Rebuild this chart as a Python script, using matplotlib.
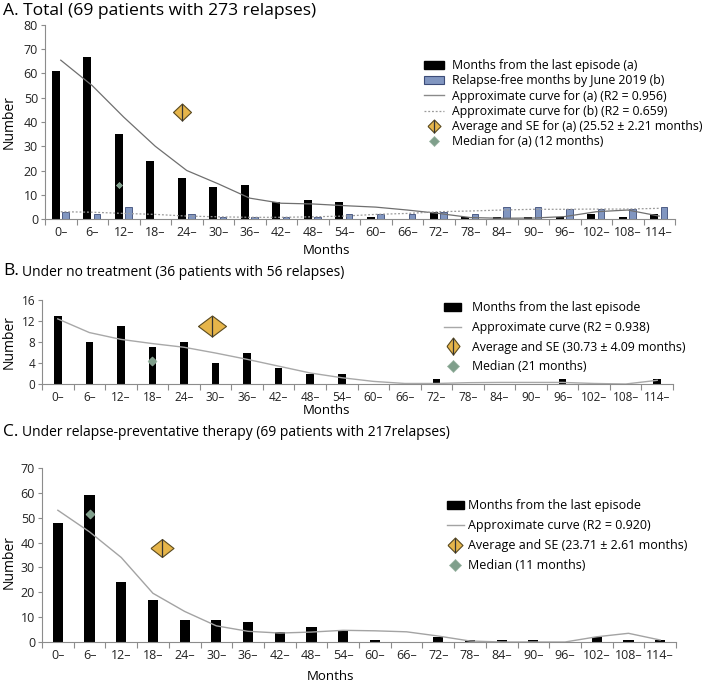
import numpy as np
import matplotlib
matplotlib.use('Agg')
import matplotlib.pyplot as plt
from matplotlib.lines import Line2D
from matplotlib.patches import Patch

plt.rcParams['font.family'] = ['Open Sans', 'DejaVu Sans']

# --- data ---
months = ['0–', '6–', '12–', '18–', '24–', '30–', '36–', '42–', '48–', '54–',
          '60–', '66–', '72–', '78–', '84–', '90–', '96–', '102–', '108–', '114–']

# A. total
a_last = [61, 67, 35, 24, 17, 13, 14, 7, 8, 7, 1, 0, 3, 1, 1, 1, 1, 2, 1, 2]
a_free = [3, 2, 5, 0, 2, 1, 1, 1, 1, 2, 2, 2, 3, 2, 5, 5, 4, 4, 4, 5]
a_curve = [65.5, 55, 42, 30, 20, 14.5, 8.6, 6.5, 6.2, 5.5, 4.9, 3.7, 2.3, 0.6, 0.3, 0.4, 1.0, 3.0, 3.7, 1.2]
a_curve_b = [3.0, 2.8, 2.3, 1.9, 1.2, 0.9, 0.7, 0.7, 0.9, 1.2, 1.9, 2.3, 3.0, 3.3, 3.7, 4.0, 4.0, 4.1, 4.1, 4.4]
a_avg = (3.85, 44)
a_med = (1.85, 14)

# B. no treatment
b_last = [13, 8, 11, 7, 8, 4, 6, 3, 2, 2, 0, 0, 1, 0, 0, 0, 1, 0, 0, 1]
b_curve = [12.4, 9.8, 8.5, 7.7, 7.0, 5.9, 4.7, 3.4, 2.1, 1.2, 0.5, 0.1, 0.1, 0.25, 0.3, 0.3, 0.3, 0.1, 0.0, 0.7]
b_avg = (4.9, 11)
b_med = (3.0, 4.3)

# C. relapse-preventative therapy
c_last = [48, 59, 24, 17, 9, 9, 8, 4, 6, 5, 1, 0, 2, 1, 1, 1, 0, 2, 1, 1]
c_curve = [53, 44.3, 34, 19.6, 12.3, 6.5, 4.3, 3.6, 4.0, 4.7, 4.5, 4.1, 2.4, 0.4, 0.0, 0.0, 0.0, 2.1, 3.5, 0.8]
c_avg = (3.3, 38)
c_med = (1.0, 51.5)

W, H = 702, 684
GREY = '#8c8c8c'
GOLD = '#e6b54a'
GOLD_EDGE = '#5a4a20'
MED = '#7f9f8b'
BLUE = '#8196c0'
BLUE_EDGE = '#3c4c78'

fig = plt.figure(figsize=(W / 100, H / 100), dpi=100)
x = np.arange(len(months))


def px_axes(left, top, right, bottom):
    return fig.add_axes([left / W, 1 - bottom / H, (right - left) / W, (bottom - top) / H])


def ftext(px, py, s, **kw):
    fig.text(px / W, 1 - py / H, s, **kw)


def diamond(w, h):
    return [(-w / 2, 0), (0, h / 2), (w / 2, 0), (0, -h / 2), (-w / 2, 0)]


def style(ax, ymax, ystep, fs=9):
    ax.set_xlim(-0.5, 19.5)
    ax.set_ylim(0, ymax)
    ax.set_yticks(np.arange(0, ymax + 1, ystep))
    ax.set_xticks(x)
    ax.set_xticklabels(months)
    ax.set_xticks(np.arange(-0.5, 20, 1), minor=True)
    ax.tick_params(axis='x', which='major', length=0, labelsize=fs, pad=5, labelcolor='#222')
    ax.tick_params(axis='x', which='minor', length=4, color=GREY, width=0.8)
    ax.tick_params(axis='y', length=3, color=GREY, width=0.8, labelsize=fs, labelcolor='#222', pad=2)
    for s in ['top', 'right']:
        ax.spines[s].set_visible(False)
    for s in ['left', 'bottom']:
        ax.spines[s].set_color(GREY)
        ax.spines[s].set_linewidth(0.8)


def avg_marker(ax, pos, w, h):
    ax.plot(*pos, marker=diamond(w, h), ms=max(w, h) * 0.72, mfc=GOLD, mec=GOLD_EDGE,
            mew=0.8, ls='', zorder=5)
    ax.plot(*pos, marker='|', ms=h * 0.72, color='#333', mew=0.9, ls='', zorder=6)


def med_marker(ax, pos, s):
    ax.plot(*pos, marker=diamond(s, s), ms=s * 0.72, mfc=MED, mec='#9ab5a3',
            mew=0.5, ls='', zorder=5)


def avg_handle(w, h):
    return (Line2D([], [], marker=diamond(w, h), ms=max(w, h) * 0.72, mfc=GOLD, mec=GOLD_EDGE, mew=0.8, ls=''),
            Line2D([], [], marker='|', ms=h * 0.72, color='#333', mew=0.9, ls=''))


def med_handle(s):
    return Line2D([], [], marker=diamond(s, s), ms=s * 0.72, mfc=MED, mec='#9ab5a3', mew=0.5, ls='')


# ===== A =====
axA = px_axes(45, 25, 675, 219)
style(axA, 80, 10)
axA.bar(x - 0.155, a_last, width=0.26, color='black', zorder=2)
axA.bar(x + 0.155, a_free, width=0.21, color=BLUE, edgecolor=BLUE_EDGE, linewidth=0.6, zorder=2)
axA.plot(x, a_curve, color='#6f6f6f', lw=0.9, zorder=3)
axA.plot(x, a_curve_b, color='#9a9a9a', lw=0.9, ls=(0, (1.5, 1.5)), zorder=3)
avg_marker(axA, a_avg, 18, 17)
med_marker(axA, a_med, 6)

handlesA = [Patch(facecolor='black', edgecolor='black'),
            Patch(facecolor=BLUE, edgecolor=BLUE_EDGE, linewidth=0.8),
            Line2D([], [], color='#8a8a8a', lw=1),
            Line2D([], [], color='#9a9a9a', lw=0.9, ls=(0, (1.5, 1.5))),
            avg_handle(13, 13),
            med_handle(10)]
labelsA = ['Months from the last episode (a)',
           'Relapse-free months by June 2019 (b)',
           'Approximate curve for (a) (R2 = 0.956)',
           'Approximate curve for (b) (R2 = 0.659)',
           'Average and SE for (a) (25.52 ± 2.21 months)',
           'Median for (a) (12 months)']
fig.legend(handlesA, labelsA, loc='upper left', bbox_to_anchor=(418 / W, 1 - 53 / H),
           frameon=False, fontsize=8.8, handlelength=1.6, handleheight=0.6,
           handletextpad=0.7, labelspacing=0.18, borderpad=0)

ftext(3, 11, 'A. Total (69 patients with 273 relapses)', fontsize=12.6, va='center', ha='left')
ftext(327, 251, 'Months', fontsize=9.5, ha='center', va='center')
ftext(9, 122, 'Number', fontsize=10, rotation=90, ha='center', va='center')

# ===== B =====
axB = px_axes(42, 300, 673, 384)
style(axB, 16, 4, fs=8.5)
axB.bar(x, b_last, width=0.24, color='black', zorder=2)
axB.plot(x, b_curve, color='#a8a8a8', lw=1.0, zorder=3)
avg_marker(axB, b_avg, 28, 21)
med_marker(axB, b_med, 9)

handlesB = [Patch(facecolor='black', edgecolor='black'),
            Line2D([], [], color='#a8a8a8', lw=1),
            avg_handle(13, 17),
            med_handle(12)]
labelsB = ['Months from the last episode',
           'Approximate curve (R2 = 0.938)',
           'Average and SE (30.73 ± 4.09 months)',
           'Median (21 months)']
fig.legend(handlesB, labelsB, loc='upper left', bbox_to_anchor=(438 / W, 1 - 295 / H),
           frameon=False, fontsize=8.8, handlelength=1.4, handleheight=0.6,
           handletextpad=0.9, labelspacing=0.55, borderpad=0)

ftext(3, 271, 'B.', fontsize=12.5, va='center', ha='left')
ftext(22, 272, 'Under no treatment (36 patients with 56 relapses)', fontsize=10, va='center',
      ha='left')
ftext(327, 410, 'Months', fontsize=9.5, ha='center', va='center')
ftext(9, 342, 'Number', fontsize=10, rotation=90, ha='center', va='center')

# ===== C =====
axC = px_axes(42, 468, 676, 642)
style(axC, 70, 10)
axC.bar(x, c_last, width=0.32, color='black', zorder=2)
axC.plot(x, c_curve, color='#a3a3a3', lw=1.0, zorder=3)
avg_marker(axC, c_avg, 23, 18)
med_marker(axC, c_med, 9)

handlesC = [Patch(facecolor='black', edgecolor='black'),
            Line2D([], [], color='#a3a3a3', lw=1),
            avg_handle(15, 15),
            med_handle(12)]
labelsC = ['Months from the last episode',
           'Approximate curve (R2 = 0.920)',
           'Average and SE (23.71 ± 2.61 months)',
           'Median (11 months)']
fig.legend(handlesC, labelsC, loc='upper left', bbox_to_anchor=(441 / W, 1 - 493 / H),
           frameon=False, fontsize=9, handlelength=1.3, handleheight=0.6,
           handletextpad=0.4, labelspacing=0.55, borderpad=0)

ftext(3, 432, 'C.', fontsize=12.5, va='center', ha='left')
ftext(22, 433, 'Under relapse-preventative therapy (69 patients with 217relapses)', fontsize=10,
      va='center', ha='left')
ftext(331, 677, 'Months', fontsize=9.5, ha='center', va='center')
ftext(9, 562, 'Number', fontsize=10, rotation=90, ha='center', va='center')

fig.savefig('out.png', dpi=100)
